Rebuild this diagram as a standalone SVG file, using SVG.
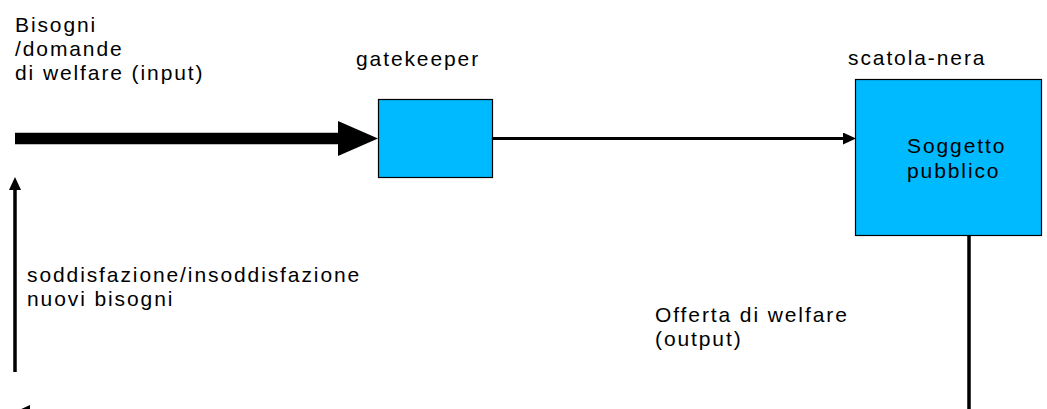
<svg xmlns="http://www.w3.org/2000/svg" width="1047" height="409" viewBox="0 0 1047 409">
  <style>
    .t { font-family: "Liberation Sans", Arial, sans-serif; font-size: 21px; letter-spacing: 1.9px; fill: #000; }
    .box { fill: #00BAFF; stroke: #000; stroke-width: 1.2; }
    .conn { fill: none; stroke: #000; }
  </style>
  <defs>
    <marker id="ah" markerUnits="userSpaceOnUse" markerWidth="14" markerHeight="14" refX="0" refY="6" orient="auto">
      <path d="M0,0 L13,6 L0,12 Z" fill="#000"/>
    </marker>
    <marker id="big" markerUnits="userSpaceOnUse" markerWidth="42" markerHeight="36" refX="0" refY="17.5" orient="auto">
      <path d="M0,0 L40,17.5 L0,35 Z" fill="#000"/>
    </marker>
  </defs>

  <g id="connectors">
    <line class="conn" x1="15" y1="138.5" x2="338" y2="138.5" stroke-width="11.5" marker-end="url(#big)"/>
    <line class="conn" x1="492" y1="138.5" x2="843" y2="138.5" stroke-width="3" marker-end="url(#ah)"/>
    <polyline class="conn" points="969,235 969,411 30,411" stroke-width="3.5" marker-end="url(#ah)"/>
    <line class="conn" x1="15" y1="372" x2="15" y2="190" stroke-width="3.5" marker-end="url(#ah)"/>
  </g>

  <g id="input-label">
    <text class="t" x="15" y="32">Bisogni</text>
    <text class="t" x="15" y="56">/domande</text>
    <text class="t" x="15" y="80">di welfare (input)</text>
  </g>

  <g id="gatekeeper">
    <text class="t" x="356" y="66">gatekeeper</text>
    <rect class="box" x="378.5" y="99.5" width="114" height="78"/>
  </g>

  <g id="scatola-nera">
    <text class="t" x="848" y="65">scatola-nera</text>
    <rect class="box" x="855.5" y="79.5" width="186" height="156"/>
    <text class="t" x="907" y="153">Soggetto</text>
    <text class="t" x="907" y="178">pubblico</text>
  </g>

  <g id="feedback-label">
    <text class="t" x="27" y="282">soddisfazione/insoddisfazione</text>
    <text class="t" x="27" y="306">nuovi bisogni</text>
  </g>

  <g id="output-label">
    <text class="t" x="655" y="322">Offerta di welfare</text>
    <text class="t" x="655" y="346">(output)</text>
  </g>
</svg>
